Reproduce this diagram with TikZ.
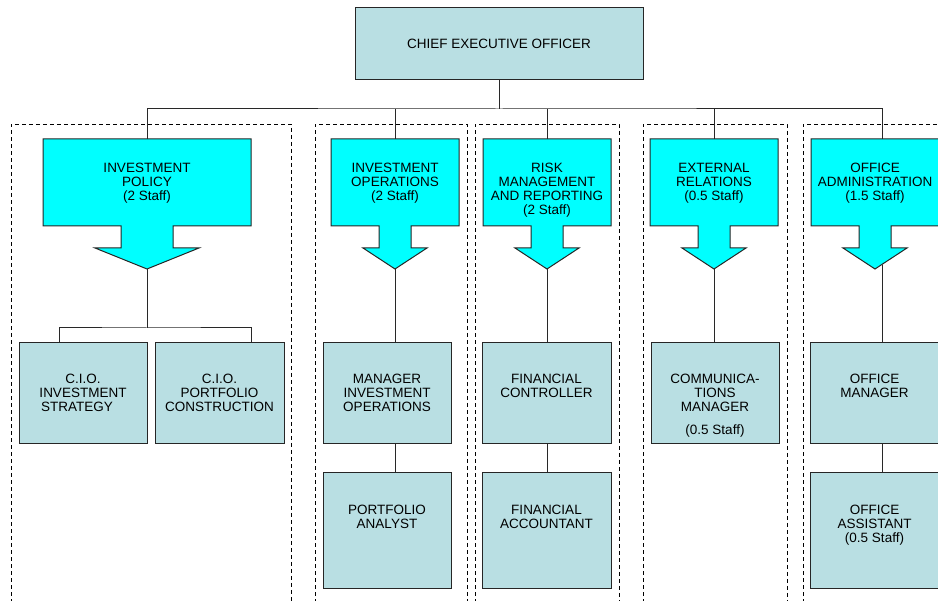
\documentclass[tikz,border=0pt]{standalone}
\usepackage{fontspec}
\setmainfont{Liberation Sans}
\usetikzlibrary{positioning}

\definecolor{postfill}{RGB}{185,223,227}
\definecolor{unitfill}{RGB}{0,255,255}
\definecolor{linegray}{RGB}{40,40,40}

% arrow shaped unit: #1 centre x, #2 half width, #3 name, #4 text
\newcommand{\unitarrow}[4]{%
  \draw[unit] (#1-#2,139) -- (#1+#2,139) -- (#1+#2,226) -- (#1+#2/4,226)
    -- (#1+#2/4,248) -- (#1+#2/2,248) -- (#1,269) -- (#1-#2/2,248)
    -- (#1-#2/4,248) -- (#1-#2/4,226) -- (#1-#2,226) -- cycle;
  \coordinate (#3 top) at (#1,139);
  \coordinate (#3 tip) at (#1,269);
  \node[btext, anchor=north] (#3) at (#1,163) {#4};}

\begin{document}
\begin{tikzpicture}[x=1pt, y=-1pt,
    btext/.style={font=\fontsize{13.5}{14}\selectfont, align=center, inner sep=0pt},
    post/.style={draw=black!85, fill=postfill, line width=1pt, inner sep=0pt,
      minimum width=128pt, minimum height=101pt},
    tall/.style={minimum height=116pt},
    unit/.style={draw=black!85, fill=unitfill, line width=1pt},
    link/.style={draw=linegray, line width=1pt},
    group/.style={draw=black, line width=0.9pt, dash pattern=on 4pt off 3pt}]
    \useasboundingbox (0,0) rectangle (938,601);
    \clip (0,0) rectangle (938,601);

    % Dashed groups
    \draw[group] (11,610) |- (291,124) -- (291,610);
    \draw[group] (315,610) |- (467,124) -- (467,610);
    \draw[group] (475,610) |- (619,124) -- (619,610);
    \draw[group] (643,610) |- (787,124) -- (787,610);
    \draw[group] (803,610) |- (950,124);

    % Chief executive
    \node[post, minimum width=288pt, minimum height=72pt] (ceo) at (499,44)
      {\fontsize{13.5}{14}\selectfont CHIEF EXECUTIVE OFFICER};
    \coordinate (bus) at (499,109);

    % Units
    \unitarrow{147}{104}{ipol}{INVESTMENT\\POLICY\\(2 Staff)}
    \unitarrow{395}{64}{iops}{INVESTMENT\\OPERATIONS\\(2 Staff)}
    \unitarrow{547}{64}{risk}{RISK\\MANAGEMENT\\AND REPORTING\\(2 Staff)}
    \unitarrow{714}{64}{extr}{EXTERNAL\\RELATIONS\\(0.5 Staff)}
    \unitarrow{875}{64}{oadm}{OFFICE\\ADMINISTRATION\\(1.5 Staff)}
    \coordinate (oadm link) at (882,139);
    \coordinate (oadm out) at (882,265);

    % Posts
    \node[post] (cio1) at (83,393.5) {};
    \node[post, minimum width=129pt] (cio2) at (219.5,393.5) {};
    \node[post] (mio) at (387,393.5) {};
    \node[post, tall] (pa) at (387,531) {};
    \node[post, minimum width=129pt] (fc) at (546.5,393.5) {};
    \node[post, minimum width=129pt, tall] (fa) at (546.5,531) {};
    \node[post] (comm) at (715,393.5) {};
    \node[post, minimum width=129pt] (om) at (874.5,393.5) {};
    \node[post, minimum width=129pt, tall] (oa) at (874.5,531) {};

    \node[btext, anchor=north, below=31pt of cio1.north] (cio1 text)
      {C.I.O.\\INVESTMENT\\STRATEGY\hspace*{12pt}};
    \node[btext, anchor=north, below=31pt of cio2.north] (cio2 text)
      {C.I.O.\\PORTFOLIO\\CONSTRUCTION};
    \node[btext, anchor=north, below=31pt of mio.north] (mio text)
      {MANAGER\\INVESTMENT\\OPERATIONS};
    \node[btext, anchor=north, below=32pt of pa.north] (pa text)
      {PORTFOLIO\\ANALYST};
    \node[btext, anchor=north, below=31pt of fc.north] (fc text)
      {FINANCIAL\\CONTROLLER};
    \node[btext, anchor=north, below=32pt of fa.north] (fa text)
      {FINANCIAL\\ACCOUNTANT};
    \node[btext, anchor=north, below=31pt of comm.north] (comm text)
      {COMMUNICA-\\TIONS\\MANAGER\\[9pt](0.5 Staff)};
    \node[btext, anchor=north, below=31pt of om.north] (om text)
      {OFFICE\\MANAGER};
    \node[btext, anchor=north, below=32pt of oa.north] (oa text)
      {OFFICE\\ASSISTANT\\(0.5 Staff)};

    % Connectors
    \draw[link] (ceo) -- (bus);
    \draw[link] (ipol top) |- (bus) -| (oadm link);
    \foreach \u in {iops,risk,extr}
      \draw[link] (\u\space top) -- (\u\space top |- bus);
    \coordinate (split) at (147,328);
    \draw[link] (ipol tip) -- (split);
    \draw[link] ([xshift=-24pt]cio1.north) |- (split) -| ([xshift=31.5pt]cio2.north);
    \draw[link] (iops tip) -- (iops tip |- mio.north);
    \draw[link] (mio.south -| iops tip) -- (pa.north -| iops tip);
    \draw[link] (risk tip) -- (risk tip |- fc.north);
    \draw[link] (fc.south -| risk tip) -- (fa.north -| risk tip);
    \draw[link] (extr tip) -- (extr tip |- comm.north);
    \draw[link] (oadm out) -- (oadm out |- om.north);
    \draw[link] (om.south -| oadm out) -- (oa.north -| oadm out);
\end{tikzpicture}
\end{document}
